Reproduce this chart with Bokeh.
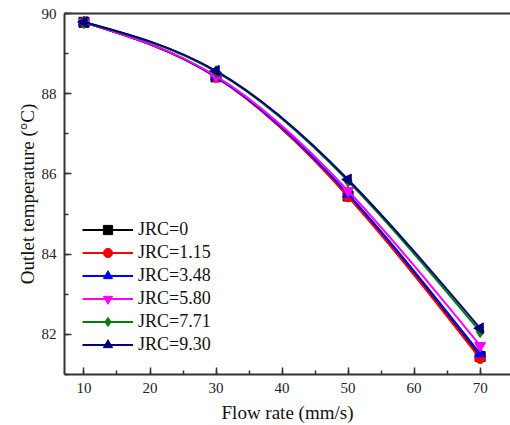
import numpy as np
from bokeh.plotting import figure
from bokeh.models import (LinearAxis, SingleIntervalTicker, FixedTicker, Range1d,
                          Legend, LegendItem)
from bokeh.embed import file_html
from bokeh.resources import INLINE

flow = [10, 30, 50, 70]
series_names = ["JRC=0", "JRC=1.15", "JRC=3.48", "JRC=5.80", "JRC=7.71", "JRC=9.30"]
t_jrc0 = [89.78, 88.42, 85.45, 81.45]
t_jrc115 = [89.78, 88.41, 85.43, 81.40]
t_jrc348 = [89.78, 88.42, 85.50, 81.52]
t_jrc580 = [89.78, 88.44, 85.58, 81.72]
t_jrc771 = [89.78, 88.55, 85.82, 82.07]
t_jrc930 = [89.79, 88.57, 85.86, 82.15]
series_vals = [t_jrc0, t_jrc115, t_jrc348, t_jrc580, t_jrc771, t_jrc930]
colors = ["#000000", "#FF0000", "#0000FF", "#FF00FF", "#008000", "#000080"]
markers = ["square", "circle", "triangle", "inverted_triangle", "diamond", "triangle"]
angles = [0, 0, 0, 0, 0, 90]
sizes = [10, 10, 11, 11, 12, 11]

FONT = "Liberation Serif"
AX = "#333333"

p = figure(width=510, height=425, output_backend="svg", toolbar_location=None,
           x_range=Range1d(7.05, 74.6), y_range=Range1d(81, 90),
           min_border_left=64, min_border_right=0, min_border_top=13,
           min_border_bottom=51, x_axis_label="Flow rate (mm/s)",
           y_axis_label="Outlet temperature (°C)")
p.outline_line_color = None
p.grid.visible = False
p.background_fill_color = "white"
p.border_fill_color = "white"

p.xaxis.ticker = SingleIntervalTicker(interval=10, num_minor_ticks=2)
p.yaxis.ticker = SingleIntervalTicker(interval=2, num_minor_ticks=2)
for ax in (p.xaxis, p.yaxis):
    ax.axis_line_color = AX
    ax.axis_line_width = 2
    ax.major_tick_line_color = AX
    ax.minor_tick_line_color = AX
    ax.major_tick_line_width = 1.5
    ax.minor_tick_line_width = 1.5
    ax.major_tick_in = 7
    ax.major_tick_out = 0
    ax.minor_tick_in = 4
    ax.minor_tick_out = 0
    ax.major_label_text_font = FONT
    ax.major_label_text_font_size = "15px"
    ax.major_label_text_color = "#222222"
    ax.axis_label_text_font = FONT
    ax.axis_label_text_font_size = "19px"
    ax.axis_label_text_font_style = "normal"
    ax.axis_label_text_color = "#111111"
p.xaxis.major_label_standoff = 8
p.xaxis.axis_label_standoff = 6
p.yaxis.major_label_standoff = 8
p.yaxis.axis_label_standoff = 1

top = LinearAxis(ticker=FixedTicker(ticks=[]), major_label_text_font_size="0px",
                 major_tick_in=0, major_tick_out=0, minor_tick_in=0, minor_tick_out=0,
                 axis_line_color=AX, axis_line_width=2, major_label_standoff=0)
p.add_layout(top, "above")


def spline_slopes(x, y):
    x = np.asarray(x, float)
    y = np.asarray(y, float)
    n = len(x)
    h = np.diff(x)
    A = np.zeros((n, n))
    b = np.zeros(n)
    A[0, 0] = 1
    A[-1, -1] = 1
    for i in range(1, n - 1):
        A[i, i - 1] = h[i - 1]
        A[i, i] = 2 * (h[i - 1] + h[i])
        A[i, i + 1] = h[i]
        b[i] = 6 * ((y[i + 1] - y[i]) / h[i] - (y[i] - y[i - 1]) / h[i - 1])
    M = np.linalg.solve(A, b)
    m = np.zeros(n)
    for i in range(n - 1):
        m[i] = (y[i + 1] - y[i]) / h[i] - h[i] * (2 * M[i] + M[i + 1]) / 6
    m[-1] = (y[-1] - y[-2]) / h[-1] + h[-1] * (M[-2] + 2 * M[-1]) / 6
    return m


legend_items = []
for name, vals, c, mk, ang, sz in zip(series_names, series_vals, colors, markers, angles, sizes):
    x = np.asarray(flow, float)
    y = np.asarray(vals, float)
    m = spline_slopes(x, y)
    h = np.diff(x)
    p.bezier(x0=x[:-1], y0=y[:-1], x1=x[1:], y1=y[1:],
             cx0=x[:-1] + h / 3, cy0=y[:-1] + m[:-1] * h / 3,
             cx1=x[1:] - h / 3, cy1=y[1:] - m[1:] * h / 3,
             line_color=c, line_width=2)
    sc = p.scatter(x=flow, y=vals, marker=mk, size=sz,
                   angle=[ang] * len(flow), angle_units="deg",
                   fill_color=c, line_color=c)
    dl = p.line(x=[np.nan], y=[np.nan], line_color=c, line_width=2)
    legend_items.append(LegendItem(label=name, renderers=[dl, sc]))

legend = Legend(items=legend_items, location=(18, 18), padding=0, margin=0,
                spacing=0, glyph_width=51, glyph_height=23, label_standoff=5,
                label_text_font=FONT, label_text_font_size="18px",
                label_text_color="#111111", border_line_color=None,
                background_fill_alpha=0)
p.add_layout(legend, "center")

open("out.html", "w").write(file_html(p, INLINE))
